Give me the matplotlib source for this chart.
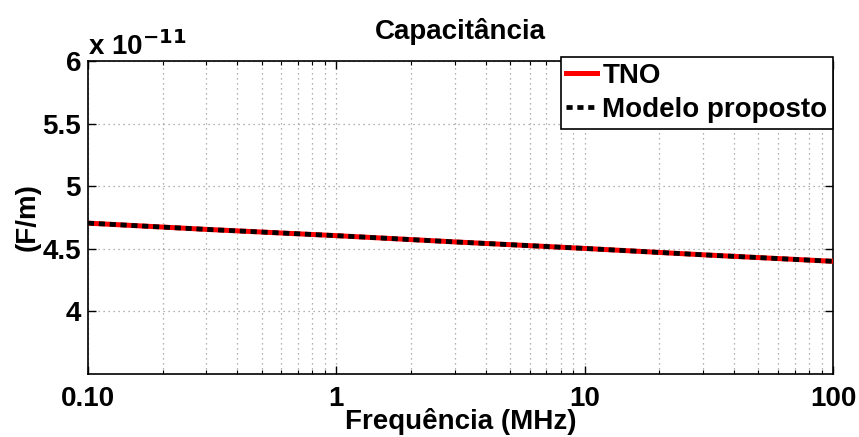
import matplotlib.pyplot as plt
from matplotlib.ticker import FixedLocator, FuncFormatter, LogLocator, NullFormatter

# Capacitance per unit length vs frequency.
freq_mhz = [0.1, 0.3, 1, 3, 10, 30, 100]
cap_tno = [4.705e-11, 4.655e-11, 4.605e-11, 4.555e-11, 4.503e-11, 4.452e-11, 4.40e-11]
cap_modelo = [4.705e-11, 4.655e-11, 4.605e-11, 4.555e-11, 4.503e-11, 4.452e-11, 4.40e-11]

x_ticks = [0.1, 1, 10, 100]
x_tick_labels = ['0.10', '1', '10', '100']
y_ticks = [4e-11, 4.5e-11, 5e-11, 5.5e-11, 6e-11]

plt.rcParams['font.family'] = ['Liberation Sans', 'DejaVu Sans']
plt.rcParams['font.weight'] = 'bold'
fs = 20

fig = plt.figure(figsize=(8.59, 4.37), dpi=100)
ax = fig.add_axes([0.1024, 0.1442, 0.8673, 0.7162])

ax.plot(freq_mhz, cap_tno, color='red', linewidth=3.6, label='TNO', zorder=3)
ax.plot(freq_mhz, cap_modelo, color='black', linewidth=3.4,
        linestyle=(0, (1.3, 1.0)), label='Modelo proposto', zorder=4)

ax.set_xscale('log')
ax.set_xlim(0.1, 100)
ax.set_ylim(3.5e-11, 6e-11)

ax.xaxis.set_major_locator(FixedLocator(x_ticks))
ax.set_xticklabels(x_tick_labels)
ax.xaxis.set_minor_locator(LogLocator(base=10, subs=range(2, 10)))
ax.xaxis.set_minor_formatter(NullFormatter())
ax.yaxis.set_major_locator(FixedLocator(y_ticks))
ax.yaxis.set_major_formatter(FuncFormatter(lambda v, p: '%g' % round(v / 1e-11, 2)))

ax.tick_params(which='both', direction='in', top=True, right=True, labelsize=fs)
ax.tick_params(which='major', length=6, width=1)
ax.tick_params(which='minor', length=3, width=0.8)
ax.tick_params(axis='x', pad=9)
ax.tick_params(axis='y', pad=5)

ax.grid(True, which='major', linestyle=(0, (1, 3)), color='0.6', linewidth=0.9)
ax.grid(True, which='minor', axis='x', linestyle=(0, (1, 3)), color='0.6', linewidth=0.9)
for s in ax.spines.values():
    s.set_linewidth(1.2)

ax.text(0.0, 1.0, r'x 10$^{\mathbf{-11}}$', transform=ax.transAxes,
        fontsize=fs, fontweight='bold', ha='left', va='bottom')

ax.set_title('Capacitância', fontsize=fs, fontweight='bold', pad=16)
ax.set_xlabel('Frequência (MHz)', fontsize=fs, fontweight='bold', labelpad=-3)
ax.set_ylabel('(F/m)', fontsize=fs, fontweight='bold', labelpad=1)

leg = ax.legend(loc='upper right', bbox_to_anchor=(1.0, 1.012), fontsize=fs,
                fancybox=False, framealpha=1, edgecolor='black',
                handlelength=1.1, handletextpad=0.2, borderpad=0.2,
                labelspacing=0.3, borderaxespad=0)
leg.get_frame().set_linewidth(1.2)

fig.savefig('out.png', dpi=100)
